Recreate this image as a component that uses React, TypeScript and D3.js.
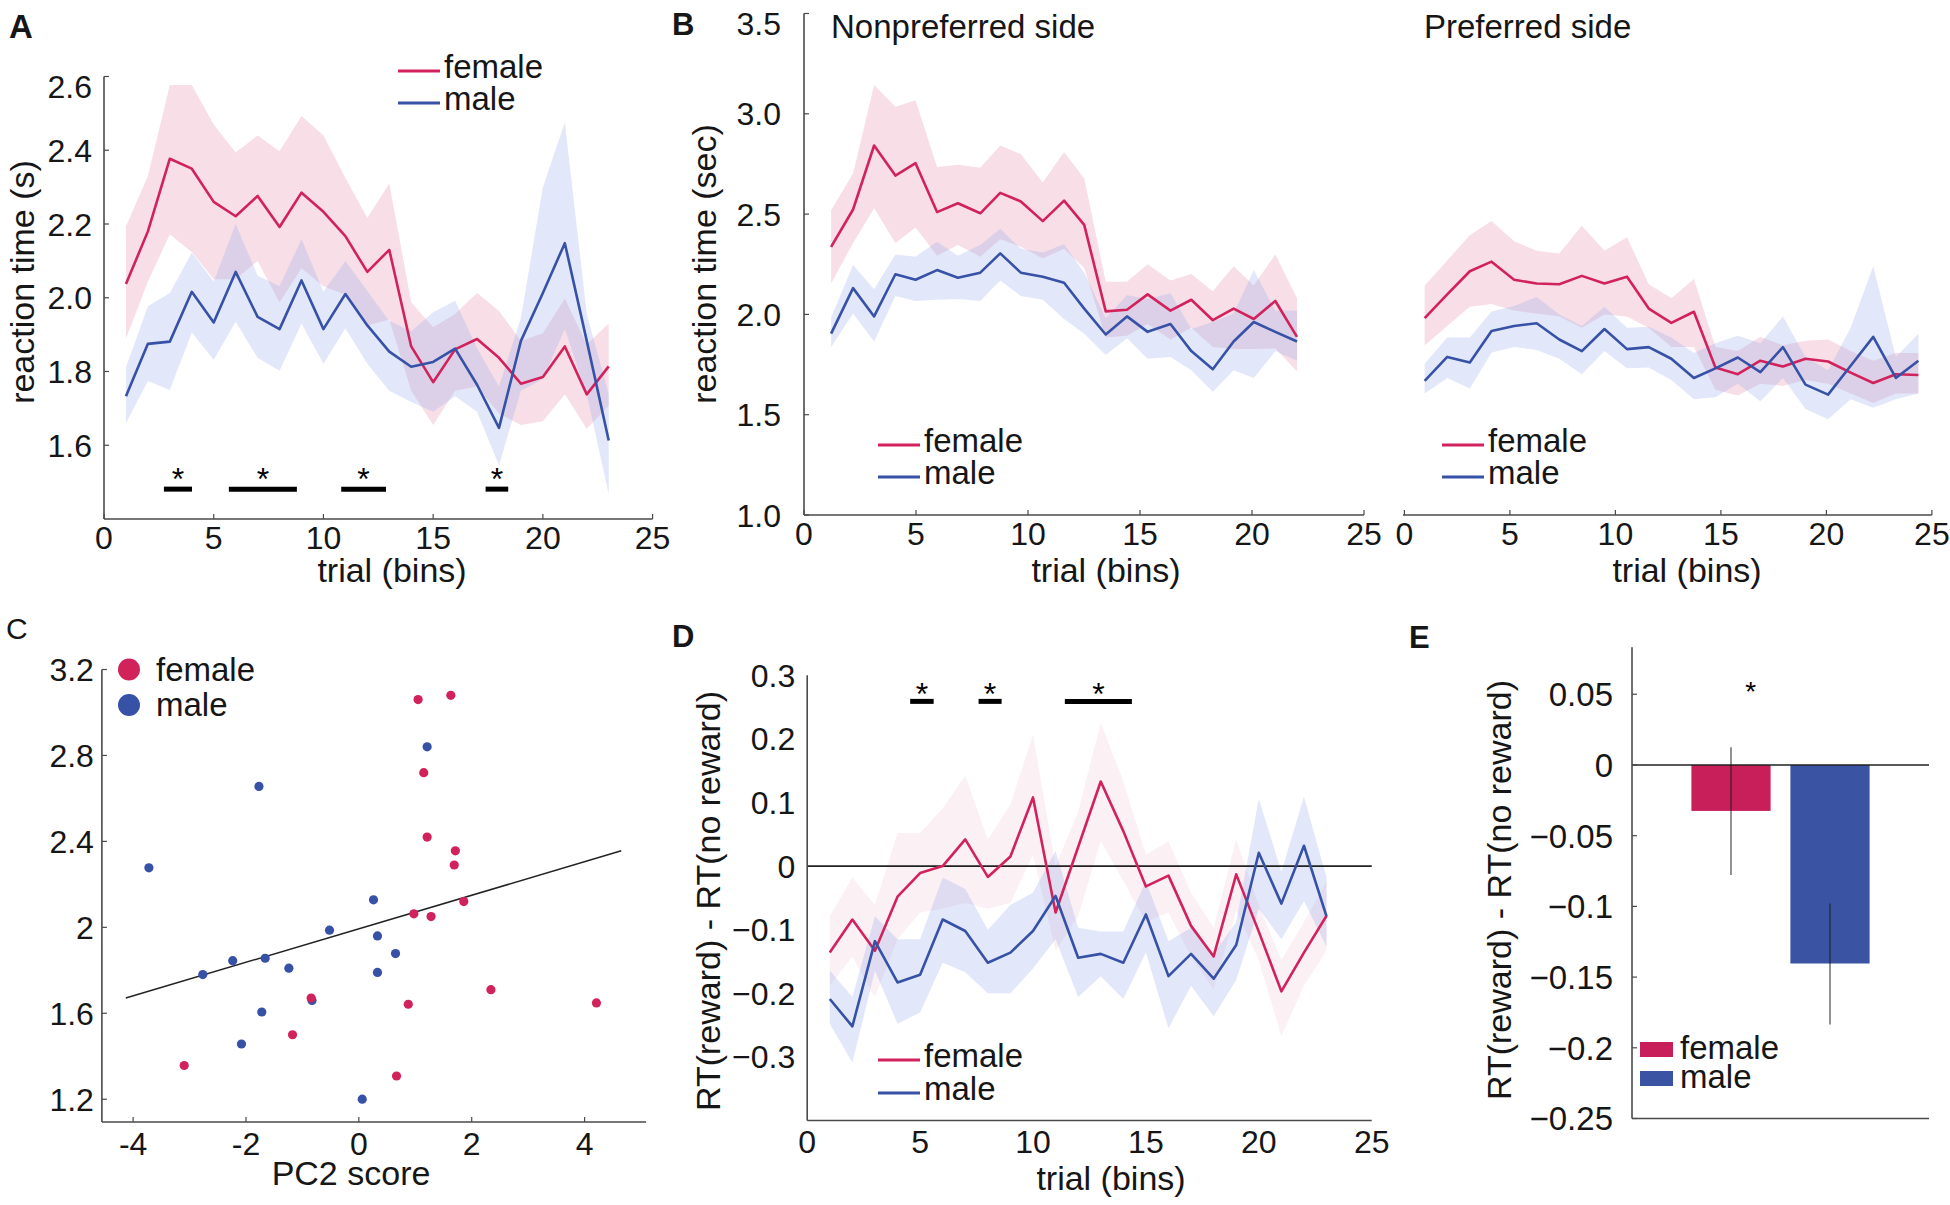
import React from 'react';
import * as d3 from 'd3';

const FONT = '"Liberation Sans", Arial, Helvetica, sans-serif';
const FEMALE = '#D2225C';
const MALE = '#3651A6';
const FEMALE_BAND = '#E9A0BB';
const MALE_BAND = '#A0B0EC';
const FEMALE_BAR = '#C81E5A';
const MALE_BAR = '#3A54A3';
const AXIS = '#4a4a4a';
const TXT = '#161616';

// ---------------- Panel A ----------------
const trialA = [1, 2, 3, 4, 5, 6, 7, 8, 9, 10, 11, 12, 13, 14, 15, 16, 17, 18, 19, 20, 21, 22, 23];
const aFemaleMean = [2.037, 2.18, 2.377, 2.35, 2.26, 2.221, 2.276, 2.192, 2.285, 2.233, 2.167, 2.07, 2.13, 1.868, 1.771, 1.86, 1.888, 1.837, 1.767, 1.785, 1.868, 1.738, 1.814];
const aFemaleHi = [2.193, 2.33, 2.577, 2.577, 2.47, 2.394, 2.44, 2.397, 2.493, 2.44, 2.325, 2.216, 2.31, 1.987, 1.92, 1.956, 2.013, 1.964, 1.883, 1.904, 1.998, 1.873, 1.93];
const aFemaleLo = [1.889, 2.044, 2.172, 2.124, 2.05, 2.05, 2.1, 1.987, 2.08, 2.031, 2.008, 1.925, 1.941, 1.748, 1.655, 1.748, 1.759, 1.686, 1.655, 1.665, 1.738, 1.645, 1.707];
const aMaleMean = [1.733, 1.875, 1.881, 2.016, 1.933, 2.07, 1.948, 1.915, 2.047, 1.915, 2.01, 1.925, 1.854, 1.813, 1.826, 1.862, 1.764, 1.647, 1.883, 2.013, 2.148, 1.883, 1.613];
const aMaleHi = [1.811, 1.977, 2.013, 2.122, 2.044, 2.2, 2.06, 2.031, 2.159, 2.016, 2.1, 2.018, 1.937, 1.909, 1.961, 1.992, 1.863, 1.759, 1.946, 2.3, 2.475, 1.956, 1.738];
const aMaleLo = [1.66, 1.774, 1.75, 1.906, 1.832, 1.935, 1.837, 1.802, 1.93, 1.821, 1.917, 1.821, 1.748, 1.717, 1.691, 1.733, 1.691, 1.546, 1.748, 1.78, 1.915, 1.738, 1.468];
const aSigRanges = [[2.73, 4.01], [5.69, 8.79], [10.81, 12.85], [17.39, 18.42]];
const aSigLevel = 1.481;
const aXTicks = [0, 5, 10, 15, 20, 25];
const aYTicks = [1.6, 1.8, 2.0, 2.2, 2.4, 2.6];
const aYLabels = ['1.6', '1.8', '2.0', '2.2', '2.4', '2.6'];

// ---------------- Panel B ----------------
const bNonprefX = [1.21, 2.19, 3.13, 4.08, 4.98, 5.94, 6.87, 7.87, 8.76, 9.68, 10.66, 11.61, 12.51, 13.47, 14.42, 15.34, 16.36, 17.29, 18.25, 19.18, 20.08, 21.04, 22.01];
const bNpFemaleMean = [2.337, 2.523, 2.842, 2.692, 2.754, 2.51, 2.554, 2.504, 2.606, 2.563, 2.465, 2.567, 2.446, 2.015, 2.023, 2.1, 2.019, 2.073, 1.971, 2.029, 1.977, 2.067, 1.888];
const bNpFemaleHi = [2.519, 2.702, 3.144, 3.035, 3.067, 2.735, 2.746, 2.731, 2.842, 2.798, 2.658, 2.81, 2.677, 2.163, 2.163, 2.25, 2.169, 2.202, 2.115, 2.24, 2.144, 2.298, 2.081];
const bNpFemaleLo = [2.154, 2.356, 2.529, 2.356, 2.433, 2.292, 2.346, 2.288, 2.375, 2.337, 2.279, 2.327, 2.231, 1.885, 1.894, 1.952, 1.875, 1.933, 1.837, 1.827, 1.827, 1.831, 1.715];
const bNpMaleMean = [1.904, 2.131, 1.99, 2.2, 2.173, 2.221, 2.183, 2.208, 2.304, 2.208, 2.188, 2.158, 2.029, 1.9, 1.99, 1.913, 1.952, 1.817, 1.727, 1.865, 1.962, 1.913, 1.865];
const bNpMaleHi = [1.985, 2.246, 2.125, 2.298, 2.288, 2.362, 2.292, 2.346, 2.427, 2.327, 2.308, 2.35, 2.208, 1.981, 2.096, 2.077, 2.106, 1.927, 1.962, 2.004, 2.221, 2.019, 2.019];
const bNpMaleLo = [1.837, 2.004, 1.865, 2.092, 2.067, 2.073, 2.077, 2.067, 2.169, 2.092, 2.073, 1.977, 1.904, 1.798, 1.881, 1.779, 1.788, 1.721, 1.615, 1.721, 1.683, 1.817, 1.769];

const bPrefX = [0.96, 2.03, 3.1, 4.13, 5.2, 6.27, 7.34, 8.41, 9.48, 10.55, 11.58, 12.65, 13.72, 14.74, 15.8, 16.87, 17.94, 19.01, 20.08, 21.15, 22.22, 23.29, 24.36];
const bPFemaleMean = [1.981, 2.1, 2.215, 2.263, 2.173, 2.154, 2.15, 2.192, 2.154, 2.188, 2.029, 1.958, 2.013, 1.735, 1.702, 1.769, 1.74, 1.779, 1.765, 1.71, 1.658, 1.702, 1.698];
const bPFemaleHi = [2.144, 2.269, 2.394, 2.465, 2.365, 2.317, 2.304, 2.442, 2.317, 2.385, 2.15, 2.081, 2.177, 1.837, 1.817, 1.888, 1.846, 1.869, 1.875, 1.817, 1.769, 1.808, 1.808];
const bPFemaleLo = [1.846, 1.942, 2.038, 2.052, 2.019, 2.004, 1.99, 1.933, 2.0, 1.99, 1.933, 1.837, 1.837, 1.625, 1.596, 1.654, 1.644, 1.673, 1.654, 1.606, 1.558, 1.606, 1.606];
const bPMaleMean = [1.669, 1.788, 1.76, 1.917, 1.942, 1.956, 1.875, 1.817, 1.927, 1.827, 1.837, 1.779, 1.683, 1.731, 1.785, 1.712, 1.837, 1.65, 1.6, 1.744, 1.888, 1.683, 1.769];
const bPMaleHi = [1.754, 1.885, 1.885, 2.015, 2.042, 2.087, 2.0, 1.942, 2.038, 1.933, 1.938, 1.885, 1.808, 1.856, 1.894, 1.856, 1.99, 1.788, 1.721, 1.933, 2.24, 1.788, 1.904];
const bPMaleLo = [1.606, 1.683, 1.631, 1.81, 1.837, 1.823, 1.779, 1.702, 1.817, 1.731, 1.735, 1.673, 1.577, 1.587, 1.654, 1.567, 1.683, 1.529, 1.477, 1.577, 1.535, 1.577, 1.606];
const bXTicks = [0, 5, 10, 15, 20, 25];
const bYTicks = [1.0, 1.5, 2.0, 2.5, 3.0, 3.5];
const bYLabels = ['1.0', '1.5', '2.0', '2.5', '3.0', '3.5'];

// ---------------- Panel C ----------------
const cFemaleX = [1.05, 1.63, 1.15, 1.21, 1.71, 1.69, 1.86, 0.975, 1.28, 2.34, 4.21, 0.876, -0.845, -1.175, -3.095, 0.668];
const cFemaleY = [3.06, 3.08, 2.72, 2.42, 2.356, 2.29, 2.12, 2.063, 2.05, 1.71, 1.648, 1.642, 1.671, 1.5, 1.357, 1.308];
const cMaleX = [1.21, -1.77, -3.72, 0.26, -0.52, 0.33, 0.65, -2.235, -1.66, -1.24, -2.765, 0.33, -0.83, -1.72, -2.08, 0.06];
const cMaleY = [2.84, 2.656, 2.277, 2.128, 1.987, 1.96, 1.878, 1.845, 1.856, 1.81, 1.78, 1.79, 1.66, 1.606, 1.457, 1.2];
const cFitX = [-4.13, 4.65];
const cFitY = [1.671, 2.356];
const cXTicks = [-4, -2, 0, 2, 4];
const cXLabels = ['-4', '-2', '0', '2', '4'];
const cYTicks = [1.2, 1.6, 2.0, 2.4, 2.8, 3.2];
const cYLabels = ['1.2', '1.6', '2', '2.4', '2.8', '3.2'];

// ---------------- Panel D ----------------
const trialD = [1, 2, 3, 4, 5, 6, 7, 8, 9, 10, 11, 12, 13, 14, 15, 16, 17, 18, 19, 20, 21, 22, 23];
const dFemaleMean = [-0.136, -0.084, -0.133, -0.048, -0.011, 0.0, 0.042, -0.017, 0.015, 0.108, -0.073, 0.03, 0.133, 0.055, -0.032, -0.015, -0.094, -0.142, -0.013, -0.103, -0.197, -0.136, -0.078];
const dFemaleHi = [-0.079, -0.018, -0.061, 0.052, 0.052, 0.091, 0.142, 0.042, 0.097, 0.207, 0.0, 0.085, 0.225, 0.133, 0.018, 0.039, -0.042, -0.097, 0.042, -0.061, -0.148, -0.088, -0.024];
const dFemaleLo = [-0.188, -0.142, -0.206, -0.115, -0.073, -0.067, -0.058, -0.067, -0.058, 0.018, -0.133, -0.079, 0.039, -0.024, -0.088, -0.073, -0.142, -0.194, -0.07, -0.148, -0.267, -0.188, -0.133];
const dMaleMean = [-0.209, -0.252, -0.118, -0.183, -0.171, -0.084, -0.102, -0.152, -0.136, -0.102, -0.047, -0.144, -0.138, -0.152, -0.076, -0.173, -0.138, -0.177, -0.124, 0.021, -0.059, 0.032, -0.079];
const dMaleHi = [-0.164, -0.206, -0.079, -0.115, -0.115, -0.018, -0.036, -0.1, -0.061, -0.042, 0.024, -0.097, -0.103, -0.103, -0.024, -0.118, -0.097, -0.138, -0.088, 0.106, -0.009, 0.109, -0.018];
const dMaleLo = [-0.248, -0.309, -0.164, -0.248, -0.23, -0.152, -0.167, -0.2, -0.2, -0.161, -0.115, -0.206, -0.173, -0.209, -0.136, -0.255, -0.188, -0.236, -0.179, -0.067, -0.115, -0.055, -0.127];
const dSigRanges = [[4.56, 5.6], [7.59, 8.61], [11.41, 14.38]];
const dSigLevel = 0.259;
const dXTicks = [0, 5, 10, 15, 20, 25];
const dYTicks = [-0.3, -0.2, -0.1, 0, 0.1, 0.2, 0.3];
const dYLabels = ['\u22120.3', '\u22120.2', '\u22120.1', '0', '0.1', '0.2', '0.3'];

// ---------------- Panel E ----------------
const eGroups = ['female', 'male'];
const eMeans = [-0.0325, -0.1404];
const eErrLow = [-0.0779, -0.1836];
const eErrHigh = [0.0126, -0.098];
const eStarLevel = 0.054;
const eYTicks = [-0.25, -0.2, -0.15, -0.1, -0.05, 0, 0.05];
const eYLabels = ['\u22120.25', '\u22120.2', '\u22120.15', '\u22120.1', '\u22120.05', '0', '0.05'];

type Sc = d3.ScaleLinear<number, number>;

function Band({ xs, lo, hi, xS, yS, fill, op }: any) {
  const area = d3.area<number>()
    .x((_, i) => xS(xs[i]))
    .y0((_, i) => yS(lo[i]))
    .y1((_, i) => yS(hi[i]));
  return <path d={area(xs) || ''} fill={fill} fillOpacity={op} stroke="none" />;
}

function Line({ xs, ys, xS, yS, color }: any) {
  const line = d3.line<number>()
    .x((_, i) => xS(xs[i]))
    .y((d) => yS(d));
  return <path d={line(ys) || ''} fill="none" stroke={color} strokeWidth={2.6} strokeLinejoin="round" />;
}

function XAxis({ xS, y, ticks, labels, fs = 32, labelDy = 31, tickLen = 5, showTicks = true, x0, x1 }: any) {
  const a = x0 !== undefined ? x0 : xS.range()[0];
  const b = x1 !== undefined ? x1 : xS.range()[1];
  return (
    <g>
      <line x1={a} x2={b} y1={y} y2={y} stroke={AXIS} strokeWidth={1.6} />
      {ticks.map((t: number, i: number) => (
        <g key={i}>
          {showTicks && <line x1={xS(t)} x2={xS(t)} y1={y} y2={y - tickLen} stroke={AXIS} strokeWidth={1.2} />}
          <text x={xS(t)} y={y + labelDy} textAnchor="middle" fontSize={fs} fontFamily={FONT} fill={TXT}>
            {labels ? labels[i] : String(t)}
          </text>
        </g>
      ))}
    </g>
  );
}

function YAxis({ yS, x, ticks, labels, gap, fs = 32, tickLen = 5, topShift = 0, y0, y1 }: any) {
  const a = y0 !== undefined ? y0 : yS.range()[0];
  const b = y1 !== undefined ? y1 : yS.range()[1];
  const top = Math.max(...ticks);
  return (
    <g>
      <line x1={x} x2={x} y1={a} y2={b} stroke={AXIS} strokeWidth={1.6} />
      {ticks.map((t: number, i: number) => (
        <g key={i}>
          {tickLen > 0 && <line x1={x} x2={x + tickLen} y1={yS(t)} y2={yS(t)} stroke={AXIS} strokeWidth={1.2} />}
          <text x={x - gap} y={yS(t) + (t === top ? topShift : 0)} dy="0.36em" textAnchor="end" fontSize={fs} fontFamily={FONT} fill={TXT}>
            {labels[i]}
          </text>
        </g>
      ))}
    </g>
  );
}

function Txt({ x, y, children, fs = 34, anchor = 'middle', rotate = false, weight = 'normal' }: any) {
  return (
    <text
      transform={`translate(${x},${y})${rotate ? ' rotate(-90)' : ''}`}
      textAnchor={anchor}
      fontSize={fs}
      fontFamily={FONT}
      fontWeight={weight}
      fill={TXT}
    >
      {children}
    </text>
  );
}

function LineLegend({ x, y, gapY = 32 }: any) {
  return (
    <g>
      <line x1={x} x2={x + 42} y1={y} y2={y} stroke={FEMALE} strokeWidth={3} />
      <line x1={x} x2={x + 42} y1={y + gapY} y2={y + gapY} stroke={MALE} strokeWidth={3} />
      <Txt x={x + 46} y={y + 7} anchor="start" fs={33}>female</Txt>
      <Txt x={x + 46} y={y + gapY + 7} anchor="start" fs={33}>male</Txt>
    </g>
  );
}

function SigBars({ ranges, level, xS, yS, starDy }: any) {
  return (
    <g>
      {ranges.map((r: number[], i: number) => (
        <g key={i}>
          <line x1={xS(r[0])} x2={xS(r[1])} y1={yS(level)} y2={yS(level)} stroke="#000" strokeWidth={5} />
          <text x={xS((r[0] + r[1]) / 2)} y={yS(level) + starDy} textAnchor="middle" fontSize={32} fontFamily={FONT} fill="#000">*</text>
        </g>
      ))}
    </g>
  );
}

export default function App() {
  const xA: Sc = d3.scaleLinear().domain([0, 25]).range([104, 652.6]);
  const yA: Sc = d3.scaleLinear().domain([1.4, 2.6]).range([519, 76.5]);

  const yB: Sc = d3.scaleLinear().domain([1.0, 3.5]).range([515, 13.5]);
  const xBN: Sc = d3.scaleLinear().domain([0, 25]).range([804, 1364]);
  const xBP: Sc = d3.scaleLinear().domain([0, 25]).range([1404.4, 1931.9]);

  const xC: Sc = d3.scaleLinear().domain([-4.553, 5.09]).range([101.9, 646.1]);
  const yC: Sc = d3.scaleLinear().domain([1.094, 3.2]).range([1122, 669.5]);

  const xD: Sc = d3.scaleLinear().domain([0, 25]).range([807.2, 1371.7]);
  const yD: Sc = d3.scaleLinear().domain([-0.4, 0.3]).range([1120.5, 675.3]);

  const xE = d3.scaleBand<string>().domain(eGroups).range([1632, 1929]).paddingInner(0.2).paddingOuter(0.6);
  const yE: Sc = d3.scaleLinear().domain([-0.25, 0.0832]).range([1118.5, 647.3]);

  const bw = xE.bandwidth();

  return (
    <svg width={1950} height={1205} viewBox="0 0 1950 1205" style={{ position: 'absolute', left: 0, top: 0, background: '#fff' }}>
      <rect x={0} y={0} width={1950} height={1205} fill="#fff" />

      {/* ===== Panel A ===== */}
      <Txt x={9} y={38} fs={33} anchor="start" weight="bold">A</Txt>
      <Band xs={trialA} lo={aFemaleLo} hi={aFemaleHi} xS={xA} yS={yA} fill={FEMALE_BAND} op={0.35} />
      <Band xs={trialA} lo={aMaleLo} hi={aMaleHi} xS={xA} yS={yA} fill={MALE_BAND} op={0.3} />
      <Line xs={trialA} ys={aFemaleMean} xS={xA} yS={yA} color={FEMALE} />
      <Line xs={trialA} ys={aMaleMean} xS={xA} yS={yA} color={MALE} />
      <SigBars ranges={aSigRanges} level={aSigLevel} xS={xA} yS={yA} starDy={1} />
      <YAxis yS={yA} x={104} ticks={aYTicks} labels={aYLabels} gap={12} topShift={10} />
      <XAxis xS={xA} y={519} ticks={aXTicks} fs={32} labelDy={30} />
      <Txt x={34} y={282} rotate fs={34}>reaction time (s)</Txt>
      <Txt x={392} y={582} fs={34}>trial (bins)</Txt>
      <LineLegend x={398} y={71} />

      {/* ===== Panel B ===== */}
      <Txt x={672} y={35} fs={31} anchor="start" weight="bold">B</Txt>
      <Band xs={bNonprefX} lo={bNpFemaleLo} hi={bNpFemaleHi} xS={xBN} yS={yB} fill={FEMALE_BAND} op={0.35} />
      <Band xs={bNonprefX} lo={bNpMaleLo} hi={bNpMaleHi} xS={xBN} yS={yB} fill={MALE_BAND} op={0.3} />
      <Line xs={bNonprefX} ys={bNpFemaleMean} xS={xBN} yS={yB} color={FEMALE} />
      <Line xs={bNonprefX} ys={bNpMaleMean} xS={xBN} yS={yB} color={MALE} />
      <YAxis yS={yB} x={804} ticks={bYTicks} labels={bYLabels} gap={23} topShift={10} />
      <XAxis xS={xBN} y={515} ticks={bXTicks} fs={32} labelDy={30} />
      <Txt x={716} y={264} rotate fs={34}>reaction time (sec)</Txt>
      <Txt x={1106} y={582} fs={34}>trial (bins)</Txt>
      <Txt x={831} y={38} fs={33} anchor="start">Nonpreferred side</Txt>
      <LineLegend x={878} y={445} />

      <Band xs={bPrefX} lo={bPFemaleLo} hi={bPFemaleHi} xS={xBP} yS={yB} fill={FEMALE_BAND} op={0.35} />
      <Band xs={bPrefX} lo={bPMaleLo} hi={bPMaleHi} xS={xBP} yS={yB} fill={MALE_BAND} op={0.3} />
      <Line xs={bPrefX} ys={bPFemaleMean} xS={xBP} yS={yB} color={FEMALE} />
      <Line xs={bPrefX} ys={bPMaleMean} xS={xBP} yS={yB} color={MALE} />
      <XAxis xS={xBP} y={515} ticks={bXTicks} fs={32} labelDy={30} x0={1403} />
      <Txt x={1687} y={582} fs={34}>trial (bins)</Txt>
      <Txt x={1424} y={38} fs={33} anchor="start">Preferred side</Txt>
      <LineLegend x={1442} y={445} />

      {/* ===== Panel C ===== */}
      <Txt x={6} y={639} fs={30} anchor="start">C</Txt>
      <line x1={xC(cFitX[0])} x2={xC(cFitX[1])} y1={yC(cFitY[0])} y2={yC(cFitY[1])} stroke="#222" strokeWidth={1.5} />
      {cMaleX.map((v, i) => (
        <circle key={'m' + i} cx={xC(v)} cy={yC(cMaleY[i])} r={4.6} fill={MALE} />
      ))}
      {cFemaleX.map((v, i) => (
        <circle key={'f' + i} cx={xC(v)} cy={yC(cFemaleY[i])} r={4.6} fill={FEMALE} />
      ))}
      <YAxis yS={yC} x={101.9} ticks={cYTicks} labels={cYLabels} gap={8} />
      <XAxis xS={xC} y={1122} ticks={cXTicks} labels={cXLabels} fs={32} labelDy={33} />
      <Txt x={351} y={1185} fs={34}>PC2 score</Txt>
      <circle cx={129} cy={669.5} r={11} fill={FEMALE} />
      <circle cx={129} cy={705} r={11} fill={MALE} />
      <Txt x={156} y={681} fs={33} anchor="start">female</Txt>
      <Txt x={156} y={716} fs={33} anchor="start">male</Txt>

      {/* ===== Panel D ===== */}
      <Txt x={672} y={647} fs={31} anchor="start" weight="bold">D</Txt>
      <Band xs={trialD} lo={dFemaleLo} hi={dFemaleHi} xS={xD} yS={yD} fill={FEMALE_BAND} op={0.16} />
      <Band xs={trialD} lo={dMaleLo} hi={dMaleHi} xS={xD} yS={yD} fill={MALE_BAND} op={0.3} />
      <line x1={xD(0)} x2={xD(25)} y1={yD(0)} y2={yD(0)} stroke="#222" strokeWidth={1.6} />
      <Line xs={trialD} ys={dFemaleMean} xS={xD} yS={yD} color={FEMALE} />
      <Line xs={trialD} ys={dMaleMean} xS={xD} yS={yD} color={MALE} />
      <SigBars ranges={dSigRanges} level={dSigLevel} xS={xD} yS={yD} starDy={4} />
      <YAxis yS={yD} x={807.2} ticks={dYTicks} labels={dYLabels} gap={12} tickLen={0} />
      <XAxis xS={xD} y={1120.5} ticks={dXTicks} fs={32} labelDy={32} showTicks={false} />
      <Txt x={720} y={901} rotate fs={34}>RT(reward) - RT(no reward)</Txt>
      <Txt x={1111} y={1190} fs={34}>trial (bins)</Txt>
      <LineLegend x={878} y={1060} gapY={33} />

      {/* ===== Panel E ===== */}
      <Txt x={1409} y={648} fs={31} anchor="start" weight="bold">E</Txt>
      {eGroups.map((g, i) => {
        const y0 = yE(0);
        const y1 = yE(eMeans[i]);
        return (
          <rect key={g} x={xE(g)} y={Math.min(y0, y1)} width={bw} height={Math.abs(y1 - y0)} fill={i === 0 ? FEMALE_BAR : MALE_BAR} />
        );
      })}
      <line x1={1632} x2={1929} y1={yE(0)} y2={yE(0)} stroke="#222" strokeWidth={1.6} />
      {eGroups.map((g, i) => (
        <line key={'e' + g} x1={(xE(g) as number) + bw / 2} x2={(xE(g) as number) + bw / 2} y1={yE(eErrLow[i])} y2={yE(eErrHigh[i])} stroke="#1a1a1a" strokeOpacity={0.6} strokeWidth={1.6} />
      ))}
      <text x={(xE('female') as number) + bw * 0.75} y={yE(eStarLevel) + 12} textAnchor="middle" fontSize={28} fontFamily={FONT} fill="#000">*</text>
      <YAxis yS={yE} x={1632} ticks={eYTicks} labels={eYLabels} gap={19} fs={33} />
      <line x1={1632} x2={1929} y1={1118.5} y2={1118.5} stroke={AXIS} strokeWidth={1.6} />
      <Txt x={1511} y={890} rotate fs={34}>RT(reward) - RT(no reward)</Txt>
      <rect x={1640} y={1042} width={33} height={15} fill={FEMALE_BAR} />
      <rect x={1640} y={1071} width={33} height={15} fill={MALE_BAR} />
      <Txt x={1680} y={1059} fs={33} anchor="start">female</Txt>
      <Txt x={1680} y={1088} fs={33} anchor="start">male</Txt>
    </svg>
  );
}
